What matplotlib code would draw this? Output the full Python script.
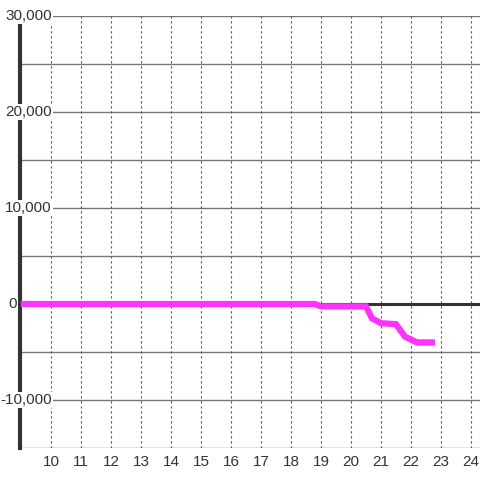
import matplotlib
matplotlib.use("Agg")
import matplotlib.pyplot as plt
from matplotlib.transforms import blended_transform_factory

plt.rcParams['font.family'] = ['Liberation Sans', 'DejaVu Sans']

# data
x_vals = [9.0, 18.8, 19.0, 20.5, 20.7, 21.0, 21.5, 21.8, 22.2, 22.8]
y_vals = [0, 0, -250, -250, -1500, -2000, -2100, -3400, -4000, -4000]
x_ticks = list(range(10, 25))
y_ticks = [-10000, 0, 10000, 20000, 30000]
y_grid = [-15000, -10000, -5000, 0, 5000, 10000, 15000, 20000, 25000, 30000]

fig = plt.figure(figsize=(4.8, 4.8), dpi=100)
ax = fig.add_axes([20 / 480, 32 / 480, 460 / 480, 432 / 480])

ax.set_xlim(8.97, 24.3)
ax.set_ylim(-15000, 30000)

# grid
for g in y_grid:
    ax.axhline(g, color='#777777', lw=1, zorder=1)
for t in x_ticks:
    ax.axvline(t, color='#555555', lw=0.8, ls=(0, (2, 2.5)), zorder=1)

# zero baseline + series
ax.axhline(0, color='#333333', lw=2.2, zorder=3)
ax.plot(x_vals, y_vals, color='#ff33ff', lw=4.5, zorder=6,
        solid_joinstyle='miter', solid_capstyle='butt')

for s in ['top', 'right', 'bottom']:
    ax.spines[s].set_visible(False)
ax.spines['left'].set_color('#333333')
ax.spines['left'].set_linewidth(3)
ax.spines['left'].set_zorder(4)

ax.set_xticks(x_ticks)
ax.set_xticklabels([str(t) for t in x_ticks])
ax.set_yticks([])
ax.tick_params(axis='both', length=0, labelsize=11, colors='#333333')
ax.tick_params(axis='x', pad=5)

# y labels sit on top of the axis line, with a white backing
trans = blended_transform_factory(fig.transFigure, ax.transData)
for v in y_ticks:
    right_px = 17 if v == 0 else 52
    ax.text(right_px / 480, v, f"{v:,}", transform=trans, ha='right', va='center',
            fontsize=11, color='#333333', zorder=5, clip_on=False,
            bbox=dict(facecolor='white', edgecolor='none', pad=0.5))

fig.savefig('out.png', dpi=100)
